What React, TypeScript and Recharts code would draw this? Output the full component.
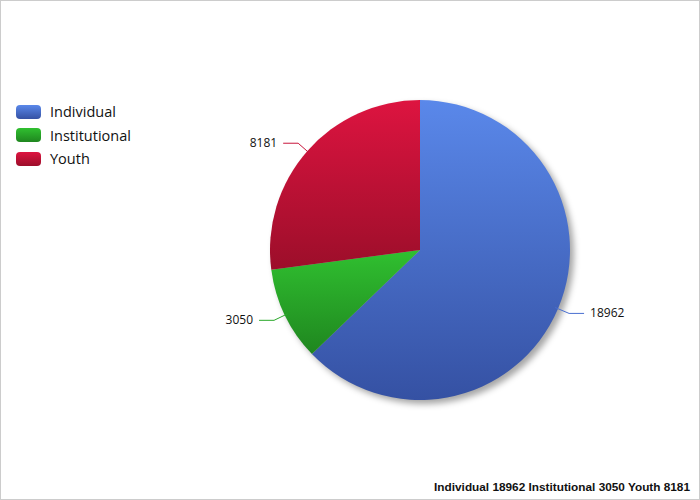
import { PieChart, Pie, Cell } from 'recharts'

const categories = ['Individual', 'Institutional', 'Youth']
const values = [18962, 3050, 8181]

const gradients = [
  { id: 'gIndividual', top: '#5a88ea', bottom: '#3551a3' },
  { id: 'gInstitutional', top: '#30c030', bottom: '#1f861f' },
  { id: 'gYouth', top: '#dd1440', bottom: '#9c0e2a' },
]
const lineColors = ['#4a6fd0', '#2aa82a', '#c8163c']

const data = categories.map((name, i) => ({ name, value: values[i] }))

const RADIAN = Math.PI / 180

function renderLabel(props: any) {
  const { cx, cy, midAngle, outerRadius, value, index } = props
  const cos = Math.cos(-midAngle * RADIAN)
  const sin = Math.sin(-midAngle * RADIAN)
  const sx = cx + (outerRadius - 3) * cos
  const sy = cy + (outerRadius - 3) * sin
  const mx = cx + (outerRadius + 12) * cos
  const my = cy + (outerRadius + 12) * sin
  const right = cos >= 0
  const ex = mx + (right ? 15 : -15)
  return (
    <g>
      <polyline
        points={`${sx},${sy} ${mx},${my} ${ex},${my}`}
        fill="none"
        stroke={lineColors[index]}
        strokeWidth={1}
      />
      <text
        x={ex + (right ? 6 : -6)}
        y={my}
        dy={4}
        textAnchor={right ? 'start' : 'end'}
        fontSize={12}
        fontFamily="'Open Sans', sans-serif"
        fill="#111"
      >
        {value}
      </text>
    </g>
  )
}

function LegendBox() {
  return (
    <div
      style={{
        position: 'absolute',
        left: 15,
        top: 99,
        fontFamily: "'Open Sans', sans-serif",
        fontSize: 14.5,
        color: '#111',
      }}
    >
      {categories.map((c, i) => (
        <div key={c} style={{ display: 'flex', alignItems: 'center', height: 23.5 }}>
          <span
            style={{
              display: 'inline-block',
              width: 25,
              height: 14,
              borderRadius: 4,
              background: `linear-gradient(${gradients[i].top}, ${gradients[i].bottom})`,
              marginRight: 9,
            }}
          />
          {c}
        </div>
      ))}
    </div>
  )
}

export default function App() {
  return (
    <div
      style={{
        position: 'relative',
        width: 700,
        height: 500,
        boxSizing: 'border-box',
        border: '1px solid #cccccc',
        background: '#fff',
      }}
    >
      <style>{'body{margin:0}'}</style>
      <PieChart
        width={698}
        height={498}
        margin={{ top: 0, right: 0, bottom: 0, left: 0 }}
        style={{ position: 'absolute', left: 0, top: 0 }}
      >
        <defs>
          {gradients.map((g) => (
            <linearGradient key={g.id} id={g.id} x1="0" y1="0" x2="0" y2="1">
              <stop offset="0%" stopColor={g.top} />
              <stop offset="100%" stopColor={g.bottom} />
            </linearGradient>
          ))}
          <filter id="pieShadow" x="-20%" y="-20%" width="140%" height="140%">
            <feGaussianBlur stdDeviation="3" />
          </filter>
        </defs>
        <Pie
          data={data}
          dataKey="value"
          cx={423}
          cy={253}
          outerRadius={150}
          startAngle={90}
          endAngle={-270}
          stroke="none"
          isAnimationActive={false}
          legendType="none"
          style={{ filter: 'url(#pieShadow)' }}
        >
          {data.map((d) => (
            <Cell key={d.name} fill="rgba(0,0,0,0.35)" />
          ))}
        </Pie>
        <Pie
          data={data}
          dataKey="value"
          cx={419}
          cy={249}
          outerRadius={150}
          startAngle={90}
          endAngle={-270}
          stroke="none"
          isAnimationActive={false}
          label={renderLabel}
          labelLine={false}
        >
          {data.map((d, i) => (
            <Cell key={d.name} fill={`url(#${gradients[i].id})`} />
          ))}
        </Pie>
      </PieChart>
      <LegendBox />
      <div
        style={{
          position: 'absolute',
          right: 9,
          bottom: 5,
          fontFamily: "'Liberation Sans', Arial, sans-serif",
          fontWeight: 'bold',
          fontSize: 11.8,
          color: '#111',
        }}
      >
        {categories.map((c, i) => `${c} ${values[i]}`).join(' ')}
      </div>
    </div>
  )
}
